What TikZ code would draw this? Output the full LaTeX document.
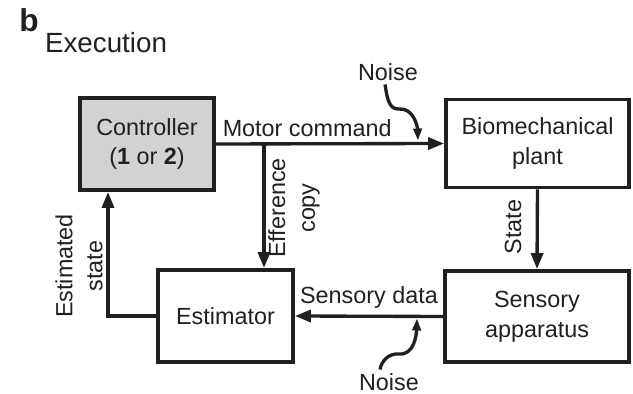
\documentclass[tikz,border=0pt]{standalone}
\usepackage{fontspec}
\setmainfont{Liberation Sans}
\usetikzlibrary{arrows.meta}
\definecolor{figink}{HTML}{231F20}
\definecolor{ctrlgray}{HTML}{D1D2D4}

\begin{document}
\begin{tikzpicture}[
  x=1cm,
  y=1cm,
  every node/.style={font=\fontsize{13.3}{17}\selectfont, text=figink},
  blockbox/.style={draw=figink, line width=2.2pt, align=center},
  sigline/.style={draw=figink, line width=1.9pt, -{Triangle[length=0.32cm, width=0.24cm]}},
  noisepath/.style={draw=figink, line width=1.9pt, -{Triangle[length=0.24cm, width=0.17cm]}}
]
  \useasboundingbox (0,0) rectangle (12.66,7.88);

  % Panel letter and title
  \node[font=\fontsize{18}{20}\selectfont\bfseries] (panel) at (0.58,7.48) {b};
  \node[font=\fontsize{15.8}{18}\selectfont] (title) at (2.12,7.02) {Execution};

  % Blocks
  \node[blockbox, fill=ctrlgray, minimum width=2.68cm, minimum height=1.84cm] (ctrl) at (2.94,5.00) {Controller\\(\textbf{1} or \textbf{2})};
  \node[blockbox, minimum width=3.66cm, minimum height=1.76cm] (plant) at (10.75,5.01) {Biomechanical\\plant};
  \node[blockbox, minimum width=2.70cm, minimum height=1.84cm] (estim) at (4.51,1.56) {Estimator};
  \node[blockbox, minimum width=3.68cm, minimum height=1.82cm] (sensor) at (10.74,1.55) {Sensory\\apparatus};

  % Forward path: motor command and efference copy
  \coordinate (split) at (5.28,5.00);
  \draw[sigline] (ctrl.east) -- (plant.west) node[pos=0.4, above] (motorlbl) {Motor command};
  \draw[sigline] (split) -- (split |- estim.north);
  \node[rotate=90, align=center] (efflbl) at (5.88,3.72) {Efference\\copy};

  % State to the sensors
  \draw[sigline] (plant.south) -- (sensor.north);
  \node[rotate=90] (statelbl) at (10.26,3.34) {State};

  % Sensory data back to the estimator
  \draw[sigline] (sensor.west) -- (estim.east) node[midway, above] (senslbl) {Sensory data};

  % Estimated state back to the controller
  \coordinate (fbcorner) at (2.16,1.56);
  \draw[sigline] (estim.west) -| (ctrl.south -| fbcorner);
  \node[rotate=90, align=center] (estlbl) at (1.58,2.56) {Estimated\\state};

  % Noise on the motor command
  \node[inner sep=2pt] (noiseA) at (7.76,6.44) {Noise};
  \coordinate (nzA) at (8.36,5.07);
  \draw[noisepath] ([xshift=-0.06cm]noiseA.south) to[out=-80,in=185] (7.98,5.70) to[out=5,in=92] (nzA);

  % Noise on the sensory data
  \node[inner sep=2pt] (noiseB) at (7.78,0.24) {Noise};
  \coordinate (nzB) at (8.34,1.51);
  \draw[noisepath] ([xshift=-0.18cm]noiseB.north) to[out=80,in=175] (7.98,0.80) to[out=-5,in=-92] (nzB);
\end{tikzpicture}
\end{document}
